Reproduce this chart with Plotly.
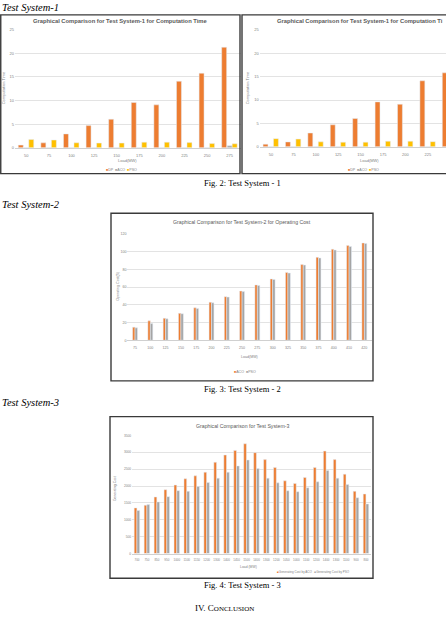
import plotly.graph_objects as go

W, H = 446, 617

# ---------------- data ----------------
ts1_load = ["50", "75", "100", "125", "150", "175", "200", "225", "250", "275"]
ts1_dp = [0.57, 1.05, 2.95, 4.7, 6.05, 9.6, 9.1, 14.1, 15.8, 21.3]
ts1_aco = [0.08, 0.08, 0.08, 0.08, 0.08, 0.08, 0.08, 0.08, 0.08, 0.42]
ts1_pso = [1.75, 1.65, 1.06, 1.0, 1.0, 1.2, 1.2, 1.1, 0.9, 0.85]
ts1_yticks = [0, 5, 10, 15, 20, 25]

ts2_load = ["75", "100", "125", "150", "175", "200", "225", "250", "275", "300",
            "325", "350", "375", "400", "410", "420"]
ts2_aco = [14.8, 21.9, 24.8, 30.4, 36.7, 43.0, 49.3, 55.6, 62.6, 69.3, 76.7, 85.6,
           93.7, 103.0, 107.0, 110.0]
ts2_pso = [14.0, 18.8, 24.2, 30.0, 36.0, 42.3, 48.8, 55.0, 62.0, 68.8, 76.0, 85.0,
           93.0, 102.0, 106.0, 109.5]
ts2_yticks = [0, 20, 40, 60, 80, 100, 120]

ts3_load = ["700", "750", "850", "950", "1000", "1100", "1150", "1200", "1300", "1400",
            "1450", "1500", "1400", "1300", "1200", "1050", "1000", "1100", "1200",
            "1400", "1300", "1100", "900", "800"]
ts3_aco = [1353, 1431, 1676, 1892, 2030, 2215, 2303, 2411, 2705, 2921, 3058, 3254,
           2990, 2784, 2549, 2155, 2078, 2255, 2549, 3037, 2784, 2352, 1843, 1764]
ts3_pso = [1274, 1450, 1529, 1686, 1863, 1843, 1990, 2107, 2235, 2411, 2597, 2773,
           2519, 2235, 2096, 1861, 1832, 1950, 2126, 2460, 2235, 2049, 1655, 1470]
ts3_yticks = [0, 500, 1000, 1500, 2000, 2500, 3000, 3500]

ORANGE = "#ED7D31"
GRAY = "#A5A5A5"
GOLD = "#FFC000"
TXT = "#7F7F7F"
GRID = "#E3E3E3"
FONT = "Liberation Sans"
SERIF = "Liberation Serif"


def px(x):
    return x / W


def py(y):
    return 1 - y / H


fig = go.Figure()

# ---------- Test System-1 (two copies) ----------
for ax in ["", "2"]:
    idx = list(range(len(ts1_load)))
    fig.add_trace(go.Bar(x=idx, y=ts1_dp, name="DP", marker_color=ORANGE,
                         width=0.22, offset=-0.355, xaxis="x" + ax, yaxis="y" + ax,
                         showlegend=False))
    fig.add_trace(go.Bar(x=idx, y=ts1_aco, name="ACO", marker_color=GRAY,
                         width=0.22, offset=-0.11, xaxis="x" + ax, yaxis="y" + ax,
                         showlegend=False))
    fig.add_trace(go.Bar(x=idx, y=ts1_pso, name="PSO", marker_color=GOLD,
                         width=0.22, offset=0.11, xaxis="x" + ax, yaxis="y" + ax,
                         showlegend=False))

# ---------- Test System-2 ----------
idx2 = list(range(len(ts2_load)))
fig.add_trace(go.Bar(x=idx2, y=ts2_aco, name="ACO", marker_color=ORANGE, width=0.16,
                     offset=-0.16, xaxis="x3", yaxis="y3", showlegend=False))
fig.add_trace(go.Bar(x=idx2, y=ts2_pso, name="PSO", marker_color=GRAY, width=0.16,
                     offset=0.0, xaxis="x3", yaxis="y3", showlegend=False))

# ---------- Test System-3 ----------
idx3 = list(range(len(ts3_load)))
fig.add_trace(go.Bar(x=idx3, y=ts3_aco, name="Generating Cost by ACO", marker_color=ORANGE,
                     width=0.27, offset=-0.28, xaxis="x4", yaxis="y4", showlegend=False))
fig.add_trace(go.Bar(x=idx3, y=ts3_pso, name="Generating Cost by PSO", marker_color=GRAY,
                     width=0.27, offset=0.0, xaxis="x4", yaxis="y4", showlegend=False))


def xax(domain, rng, labels, size, anchor, standoff):
    return dict(domain=domain, range=rng, anchor=anchor,
                tickmode="array", tickvals=list(range(len(labels))), ticktext=labels,
                tickfont=dict(size=size, color=TXT, family=FONT), tickangle=0,
                showgrid=False, zeroline=False, showline=True, linecolor="#D0D0D0",
                linewidth=1, ticks="outside", ticklen=standoff,
                tickcolor="rgba(0,0,0,0)", fixedrange=True)


def yax(domain, ticks, size, anchor):
    return dict(domain=domain, range=[0, ticks[-1]], anchor=anchor,
                tickmode="array", tickvals=ticks, ticktext=[str(t) for t in ticks],
                tickfont=dict(size=size, color=TXT, family=FONT),
                showgrid=True, gridcolor=GRID, gridwidth=1, zeroline=False,
                showline=False, ticks="", fixedrange=True)


layout = dict(
    width=W, height=H, margin=dict(l=0, r=0, t=0, b=0),
    paper_bgcolor="white", plot_bgcolor="white", barmode="group",
    xaxis=xax([px(15), px(241)], [-0.5, 9.5], ts1_load, 4, "y", 3),
    yaxis=yax([py(146), py(27)], ts1_yticks, 4, "x"),
    xaxis2=xax([px(259.8), 1.0], [-0.5, 7.81], ts1_load, 4, "y2", 3),
    yaxis2=yax([py(145), py(27)], ts1_yticks, 4, "x2"),
    xaxis3=xax([px(127.4), px(372)], [-0.5, 15.5], ts2_load, 3.6, "y3", 3),
    yaxis3=yax([py(340), py(233)], ts2_yticks, 3.6, "x3"),
    xaxis4=xax([px(132), px(371)], [-0.5, 23.5], ts3_load, 3.0, "y4", 3),
    yaxis4=yax([py(555), py(436)], ts3_yticks, 3.2, "x4"),
)

ann = []


def text(x, y, s, size, color="black", family=SERIF, xanchor="center", angle=0):
    ann.append(dict(x=px(x), y=py(y), xref="paper", yref="paper", text=s,
                    showarrow=False, xanchor=xanchor, yanchor="middle",
                    font=dict(size=size, color=color, family=family), textangle=angle))


# section headings & captions
text(0, 5, "<i>Test System-1</i>", 10.5, xanchor="left")
text(242, 181, "Fig. 2: Test System - 1", 8.5)
text(0, 203, "<i>Test System-2</i>", 10.5, xanchor="left")
text(242, 389, "Fig. 3: Test System - 2", 8.5)
text(0, 403, "<i>Test System-3</i>", 10.5, xanchor="left")
text(242, 587, "Fig. 4: Test System - 3", 8.5)
text(224, 610, "IV. C<span style='font-size:7px'>ONCLUSION</span>", 9)

# chart 1 texts (full copy on the left, page-cropped copy on the right)
title1 = "<b>Graphical Comparison for Test System-1 for Computation Time</b>"
title1_cropped = "<b>Graphical Comparison for Test System-1 for Computation Ti</b>"
leg1 = (f"<span style='color:{ORANGE}'>■</span>DP  <span style='color:{GRAY}'>■</span>ACO  "
        f"<span style='color:{GOLD}'>■</span>PSO")
text(120, 18, title1, 5.8, color="#595959", family=FONT)
text(445, 18, title1_cropped, 5.8, color="#595959", family=FONT, xanchor="right")
for off in [0, 242]:
    text(127 + off, 159, "Load(MW)", 4, color=TXT, family=FONT)
    text(121 + off, 168, leg1, 3.6, color=TXT, family=FONT)
text(3, 86, "Computation Time", 4, color=TXT, family=FONT, angle=-90)
text(247, 86, "Computation Time", 4, color=TXT, family=FONT, angle=-90)

# chart 2 texts
text(242, 221, "Graphical Comparison for Test System-2 for Operating Cost", 5.2,
     color="#595959", family=FONT)
text(250, 357, "Load(MW)", 3.6, color=TXT, family=FONT)
text(245, 372, f"<span style='color:{ORANGE}'>■</span>ACO  <span style='color:{GRAY}'>■</span>PSO",
     3.6, color=TXT, family=FONT)
text(118, 286, "Operating Cost($)", 3.6, color=TXT, family=FONT, angle=-90)

# chart 3 texts
text(242, 426, "Graphical Comparison for Test System-3", 5.2, color="#595959", family=FONT)
text(249, 569, "Load (MW)", 3.4, color=TXT, family=FONT)
text(313, 574, f"<span style='color:{ORANGE}'>■</span>Generating Cost by ACO   "
               f"<span style='color:{GRAY}'>■</span>Generating Cost by PSO",
     3.0, color=TXT, family=FONT)
text(115, 490, "Generating Cost", 3.4, color=TXT, family=FONT, angle=-90)

layout["annotations"] = ann

# chart borders
bc = "#3A3A3A"
shapes = []
for (x0, y0, x1, y1) in [(0.75, 12, 240, 172), (242, 12, 470, 172),
                         (111, 212, 373, 381), (110, 417, 373, 580)]:
    shapes.append(dict(type="rect", xref="paper", yref="paper",
                       x0=px(x0), x1=px(x1), y0=py(y1), y1=py(y0),
                       line=dict(color=bc, width=1.4), fillcolor="rgba(0,0,0,0)"))
layout["shapes"] = shapes

fig.update_layout(**layout)
fig.write_html("out.html", config={"displayModeBar": False})
